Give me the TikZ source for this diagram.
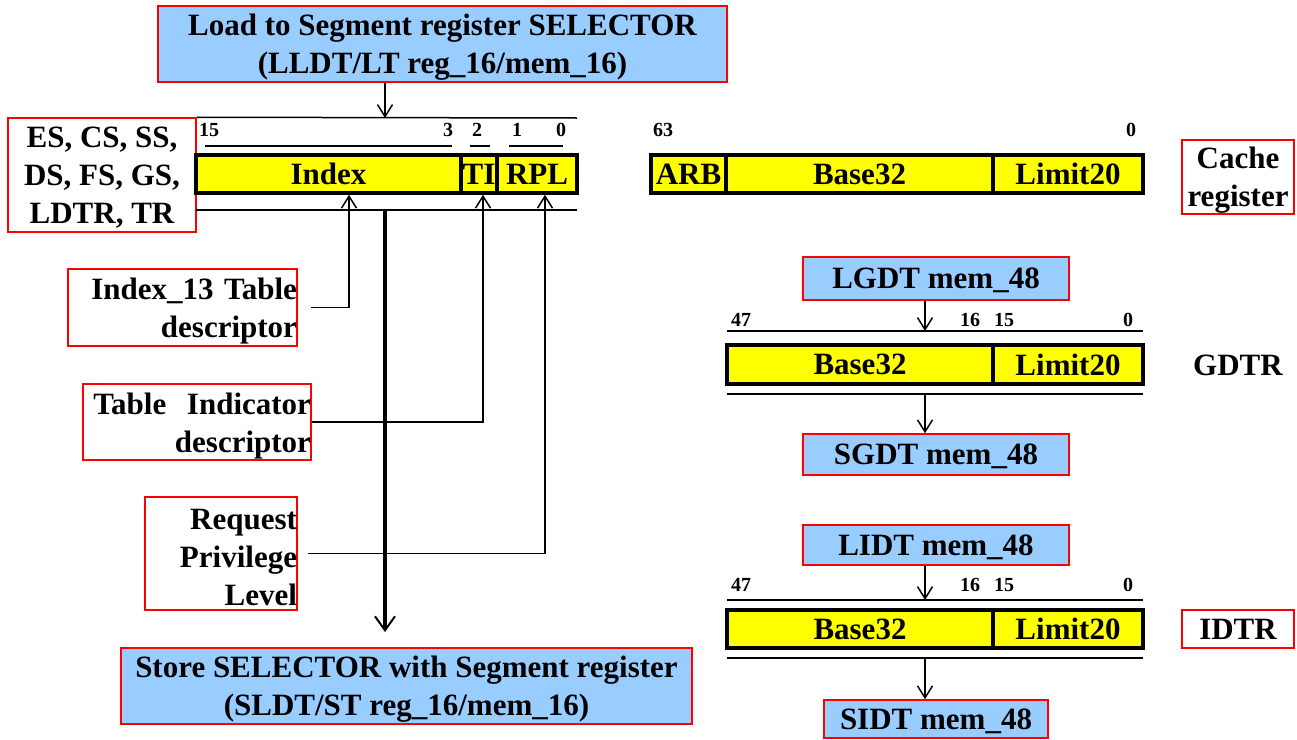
\documentclass[tikz,border=0pt]{standalone}
\usepackage{fontspec}
\setmainfont{Liberation Serif}
\usetikzlibrary{arrows.meta}
\definecolor{boxblue}{HTML}{99CCFF}
\definecolor{boxred}{HTML}{FF0000}
\definecolor{celly}{HTML}{FFFF00}

\begin{document}
\begin{tikzpicture}[x=1pt,y=-1pt,
  ft/.style={font=\fontsize{31}{38}\selectfont\bfseries},
  txt/.style={ft, text depth=0pt},
  instr/.style={txt, draw=boxred, line width=1.5pt, fill=boxblue, inner sep=0pt, align=center},
  tag/.style={txt, draw=boxred, line width=1.5pt, fill=white, inner sep=0pt},
  note/.style={ft, draw=boxred, line width=1.5pt, fill=white, inner sep=0pt, align=right, text height=29pt},
  cell/.style={txt, draw=black, line width=3.5pt, fill=celly, inner sep=0pt},
  bit/.style={font=\fontsize{20}{22}\selectfont\bfseries, inner sep=0pt},
  rule/.style={line width=1.5pt},
  arr/.style={line width=1.5pt, -{Straight Barb[length=12pt,width=15pt,line width=1.5pt]}},
  bigarr/.style={line width=4pt, -{Straight Barb[length=14pt,width=20pt,line width=2pt]}},
]
\useasboundingbox (0,0) rectangle (1297,739);

% ---------- segment selector ----------
\node[instr, minimum width=569pt, minimum height=76pt] (load) at (442.5,44)
  {Load to Segment register SELECTOR\\(LLDT/LT reg\_16/mem\_16)};
\node[tag, align=center, minimum width=188pt, minimum height=114pt] (segs) at (102,175)
  {ES, CS, SS,\\DS, FS, GS,\\LDTR, TR};

\node[cell, minimum width=265pt, minimum height=38pt] (idx) at (328.5,174) {Index};
\node[cell, minimum width=36pt, minimum height=38pt] (ti) at (479,174) {TI};
\node[cell, minimum width=80pt, minimum height=38pt] (rpl) at (537,174) {RPL};

\node[bit] (b15) at (209,130) {15};
\node[bit] (b3) at (448,130) {3};
\node[bit] (b2) at (477,130) {2};
\node[bit] (b1) at (517,130) {1};
\node[bit] (b0) at (561,130) {0};
\draw[rule] (205,146) -- (452,146);
\draw[rule] (470,146) -- (490,146);
\draw[rule] (509,146) -- (563,146);

\coordinate (selIn) at (385,118);
\coordinate (selOut) at (385,210);
\coordinate (selTip) at (385,632);
\draw[rule] (segs.north east) -- (577,118);
\draw[rule] (196,210) -- (577,210);
\draw[arr] (load.south -| selIn) -- (selIn);
\draw[bigarr] (selOut) -- (selTip);

\node[instr, minimum width=571pt, minimum height=76pt] (store) at (406.5,686)
  {Store SELECTOR with Segment register\\(SLDT/ST reg\_16/mem\_16)};

% ---------- field descriptions ----------
\node[note, text width=229pt, minimum height=77pt] (idxd) at (182.5,307.5)
  {\mbox{Index\_13 Table}\\descriptor};
\node[note, text width=228pt, minimum height=76pt] (tid) at (197,422)
  {\mbox{Table\ \ Indicator}\\descriptor};
\node[note, text width=152pt, minimum height=113pt] (rpld) at (221,553.5)
  {Request\\Privilege\\Level};

\draw[arr] ([xshift=13pt]idxd.east) -| ([xshift=20.5pt]idx.south);
\draw[arr] (tid.east) -| ([xshift=4pt]ti.south);
\draw[arr] ([xshift=10pt]rpld.east) -| ([xshift=8pt]rpl.south);

% ---------- descriptor cache ----------
\node[bit] (c63) at (663,130) {63};
\node[bit] (c0) at (1131,130) {0};
\node[cell, minimum width=75pt, minimum height=38pt] (arb) at (688.5,174) {ARB};
\node[cell, minimum width=267pt, minimum height=38pt] (cbase) at (859.5,174) {Base32};
\node[cell, minimum width=150pt, minimum height=38pt] (climit) at (1068,174) {Limit20};
\node[tag, align=center, minimum width=112pt, minimum height=74pt] (cache) at (1238,177)
  {Cache\\register};

% ---------- GDTR ----------
\node[instr, minimum width=266pt, minimum height=43pt] (lgdt) at (936,278.5) {LGDT mem\_48};
\node[bit] (g47) at (741,320) {47};
\node[bit] (g16) at (970,320) {16};
\node[bit] (g15) at (1004,320) {15};
\node[bit] (g0) at (1128,320) {0};
\coordinate (gIn) at (925,331);
\coordinate (gOut) at (925,394);
\draw[rule] (727,331) -- (1143,331);
\node[cell, minimum width=266pt, minimum height=39pt] (gbase) at (860,364.5) {Base32};
\node[cell, minimum width=150pt, minimum height=39pt] (glimit) at (1068,364.5) {Limit20};
\draw[rule] (727,394) -- (1143,394);
\node[instr, minimum width=266pt, minimum height=41pt] (sgdt) at (936,454.5) {SGDT mem\_48};
\node[txt, inner sep=0pt] (gdtr) at (1238,365) {GDTR};
\draw[arr] (lgdt.south -| gIn) -- (gIn);
\draw[arr] (gOut) -- (sgdt.north -| gOut);

% ---------- IDTR ----------
\node[instr, minimum width=266pt, minimum height=40pt] (lidt) at (936,545) {LIDT mem\_48};
\node[bit] (i47) at (741,585) {47};
\node[bit] (i16) at (970,585) {16};
\node[bit] (i15) at (1004,585) {15};
\node[bit] (i0) at (1128,585) {0};
\coordinate (iIn) at (925,600);
\coordinate (iOut) at (925,658);
\draw[rule] (727,600) -- (1143,600);
\node[cell, minimum width=266pt, minimum height=38pt] (ibase) at (860,629) {Base32};
\node[cell, minimum width=150pt, minimum height=38pt] (ilimit) at (1068,629) {Limit20};
\draw[rule] (727,658) -- (1143,658);
\node[instr, minimum width=224pt, minimum height=38pt] (sidt) at (936,719) {SIDT mem\_48};
\node[tag, align=center, minimum width=112pt, minimum height=38pt] (idtr) at (1238,629) {IDTR};
\draw[arr] (lidt.south -| iIn) -- (iIn);
\draw[arr] (iOut) -- (sidt.north -| iOut);
\end{tikzpicture}
\end{document}
